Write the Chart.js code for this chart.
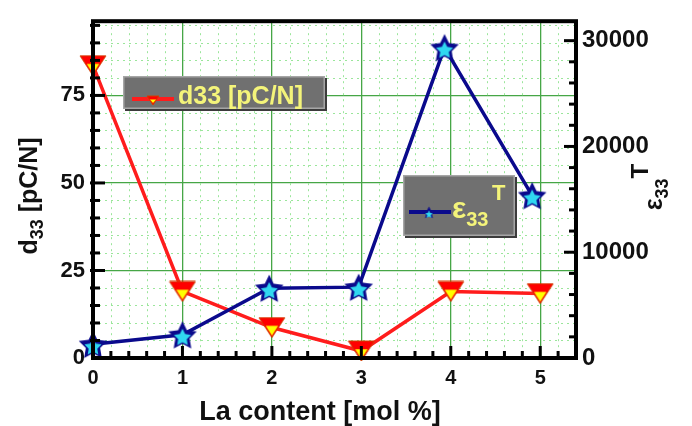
<!DOCTYPE html>
<html>
<head>
<meta charset="utf-8">
<script src="https://cdn.jsdelivr.net/npm/chart.js@4.4.1/dist/chart.umd.min.js"></script>
<style>
  html, body { margin: 0; padding: 0; background: #fff; }
  #wrap { width: 692px; height: 426px; }
</style>
</head>
<body>
<div id="wrap"><canvas id="laChart" width="692" height="426"></canvas></div>
<script>
// La content [mol %] for the d33 points
var laContent = [0, 1, 2, 3, 4, 5];
// d33 [pC/N] (left axis)
var d33Values = [83.5, 19, 8.7, 2, 19, 18.4];
// La content for the permittivity points (drawn a bit off the grid in the figure)
var laContentEps = [0, 1, 1.97, 2.97, 3.93, 4.91];
// eps33^T (right axis)
var eps33Values = [1300, 2200, 6600, 6700, 29350, 15360];

// tick labels
var xTicks = [0, 1, 2, 3, 4, 5];
var d33Ticks = [0, 25, 50, 75];
var epsTicks = [0, 10000, 20000, 30000];

var FONT = "'Liberation Sans', Arial, Helvetica, sans-serif";
var RED = '#ff1c1c';
var NAVY = '#0a0a8c';
var GRID_MAJOR = '#46a646';
var GRID_MINOR = '#9be69b';

// marker images -------------------------------------------------
function makeTriangle(w) {
  var h = Math.round(w * 0.78);
  var c = document.createElement('canvas');
  c.width = w; c.height = h;
  var g = c.getContext('2d');
  g.beginPath();
  g.moveTo(1, 1); g.lineTo(w - 1, 1); g.lineTo(w / 2, h - 1); g.closePath();
  g.fillStyle = '#ff0000'; g.fill();
  g.strokeStyle = '#d04000'; g.lineWidth = 1; g.stroke();
  g.beginPath();
  g.moveTo(w * 0.28, h * 0.42); g.lineTo(w * 0.72, h * 0.42); g.lineTo(w / 2, h - 3); g.closePath();
  g.fillStyle = '#ffff00'; g.fill();
  return c;
}

function starPath(g, cx, cy, R, r) {
  g.beginPath();
  for (var i = 0; i < 10; i++) {
    var rad = i % 2 === 0 ? R : r;
    var a = -Math.PI / 2 + i * Math.PI / 5;
    var px = cx + rad * Math.cos(a), py = cy + rad * Math.sin(a);
    if (i === 0) g.moveTo(px, py); else g.lineTo(px, py);
  }
  g.closePath();
}

function makeStar(s) {
  var c = document.createElement('canvas');
  c.width = s; c.height = s;
  var g = c.getContext('2d');
  var R = s / 2 - 1;
  starPath(g, s / 2, s / 2 + 1.5, R, R * 0.5);
  g.fillStyle = NAVY; g.fill();
  starPath(g, s / 2, s / 2 + 3, R * 0.6, R * 0.6 * 0.5);
  g.fillStyle = '#30d8f0'; g.fill();
  return c;
}

var triImg = makeTriangle(28);
var starImg = makeStar(32);
var triSmall = makeTriangle(14);
var starSmall = makeStar(15);

// helpers ---------------------------------------------------------
function drawLegendBox(ctx, x, y, w, h) {
  ctx.save();
  ctx.fillStyle = '#3c3c3c';
  ctx.fillRect(x + 2, y + 2, w, h);
  ctx.fillStyle = '#707070';
  ctx.fillRect(x, y, w, h);
  ctx.strokeStyle = '#a6a6a6';
  ctx.lineWidth = 1.5;
  ctx.strokeRect(x + 0.75, y + 0.75, w - 1.5, h - 1.5);
  ctx.restore();
}

// parts: [text, fontSize, baselineShift]
function drawParts(ctx, parts, x, y) {
  var cx = x;
  parts.forEach(function (p) {
    ctx.font = 'bold ' + p[1] + 'px ' + FONT;
    ctx.fillText(p[0], cx, y + p[2]);
    cx += ctx.measureText(p[0]).width;
  });
  return cx;
}
function partsWidth(ctx, parts) {
  var w = 0;
  parts.forEach(function (p) {
    ctx.font = 'bold ' + p[1] + 'px ' + FONT;
    w += ctx.measureText(p[0]).width;
  });
  return w;
}

var decorPlugin = {
  id: 'decor',
  beforeDatasetsDraw: function (chart) {
    var ctx = chart.ctx, a = chart.chartArea;
    var xs = chart.scales.x, ys = chart.scales.y;
    ctx.save();
    ctx.strokeStyle = GRID_MINOR;
    ctx.lineWidth = 1;
    ctx.setLineDash([2, 4]);
    for (var i = 1; i < 27; i++) {
      if (i % 5 === 0) continue;
      var px = Math.round(xs.getPixelForValue(i / 5)) + 0.5;
      ctx.beginPath(); ctx.moveTo(px, a.top); ctx.lineTo(px, a.bottom); ctx.stroke();
    }
    for (var j = 1; j < 20; j++) {
      if (j % 5 === 0) continue;
      var py = Math.round(ys.getPixelForValue(j * 5)) + 0.5;
      ctx.beginPath(); ctx.moveTo(a.left, py); ctx.lineTo(a.right, py); ctx.stroke();
    }
    ctx.restore();
  },
  afterDatasetsDraw: function (chart) {
    var ctx = chart.ctx, a = chart.chartArea;
    var xs = chart.scales.x, ys = chart.scales.y, y2 = chart.scales.y2;
    ctx.save();
    // frame
    ctx.strokeStyle = '#000';
    ctx.lineWidth = 4;
    ctx.strokeRect(a.left, a.top, a.right - a.left, a.bottom - a.top);
    // inward ticks
    ctx.lineWidth = 3;
    for (var i = 1; i < 27; i++) {
      var px = xs.getPixelForValue(i / 5);
      var len = i % 5 === 0 ? 12 : 7;
      ctx.beginPath(); ctx.moveTo(px, a.bottom); ctx.lineTo(px, a.bottom - len); ctx.stroke();
    }
    for (var j = 1; j < 20; j++) {
      var py = ys.getPixelForValue(j * 5);
      var l2 = j % 5 === 0 ? 12 : 7;
      ctx.beginPath(); ctx.moveTo(a.left - 3, py); ctx.lineTo(a.left + l2, py); ctx.stroke();
    }
    for (var k = 1; k < 16; k++) {
      var py2 = y2.getPixelForValue(k * 2000);
      var l3 = k % 5 === 0 ? 12 : 7;
      ctx.beginPath(); ctx.moveTo(a.right, py2); ctx.lineTo(a.right - l3, py2); ctx.stroke();
    }

    // legend 1 : d33
    drawLegendBox(ctx, 123, 76, 202, 33);
    ctx.strokeStyle = RED; ctx.lineWidth = 4;
    ctx.beginPath(); ctx.moveTo(132, 99); ctx.lineTo(174, 99); ctx.stroke();
    ctx.drawImage(triSmall, 153 - 7, 95);
    ctx.fillStyle = '#f4f47a';
    ctx.textBaseline = 'alphabetic';
    ctx.font = 'bold 25px ' + FONT;
    ctx.fillText('d33 [pC/N]', 178, 104);

    // legend 2 : eps33^T
    drawLegendBox(ctx, 403, 175, 112, 61);
    ctx.strokeStyle = NAVY; ctx.lineWidth = 4;
    ctx.beginPath(); ctx.moveTo(409, 212); ctx.lineTo(451, 212); ctx.stroke();
    ctx.drawImage(starSmall, 429 - 7.5, 204);
    ctx.fillStyle = '#f4f47a';
    drawParts(ctx, [['\u03b5', 30, 0], ['33', 20, 8]], 452, 218);
    ctx.font = 'bold 22px ' + FONT;
    ctx.fillText('T', 492, 200);

    // axis titles
    ctx.fillStyle = '#111';
    // bottom
    ctx.font = 'bold 27px ' + FONT;
    ctx.textAlign = 'center';
    ctx.fillText('La content [mol %]', 320, 420);
    ctx.textAlign = 'left';
    // left
    var leftParts = [['d', 25, 0], ['33', 18, 6], [' [pC/N]', 25, 0]];
    ctx.save();
    ctx.translate(37, 196);
    ctx.rotate(-Math.PI / 2);
    drawParts(ctx, leftParts, -partsWidth(ctx, leftParts) / 2, 0);
    ctx.restore();
    // right
    var rightParts = [['\u03b5', 25, 0], ['33', 18, 6], ['T', 24, -14]];
    ctx.save();
    ctx.translate(662, 187);
    ctx.rotate(-Math.PI / 2);
    drawParts(ctx, rightParts, -partsWidth(ctx, rightParts) / 2, 0);
    ctx.restore();

    ctx.restore();
  }
};

function toPoints(xv, yv) {
  return xv.map(function (v, i) { return { x: v, y: yv[i] }; });
}

function plainLabel(v) { return String(v); }

var ctx = document.getElementById('laChart').getContext('2d');

var laChart = new Chart(ctx, {
  type: 'scatter',
  data: {
    datasets: [
      {
        label: 'eps33 T',
        data: toPoints(laContentEps, eps33Values),
        yAxisID: 'y2',
        showLine: true,
        borderColor: NAVY,
        borderWidth: 3.5,
        pointStyle: starImg,
        pointRadius: 16,
        clip: false
      },
      {
        label: 'd33 [pC/N]',
        data: toPoints(laContent, d33Values),
        yAxisID: 'y',
        showLine: true,
        borderColor: RED,
        borderWidth: 3.5,
        pointStyle: triImg,
        pointRadius: 14,
        clip: false
      }
    ]
  },
  options: {
    responsive: false,
    animation: false,
    devicePixelRatio: 1,
    layout: { padding: { top: 12, left: 0, right: 0, bottom: 0 } },
    plugins: {
      legend: { display: false },
      tooltip: { enabled: false }
    },
    scales: {
      x: {
        type: 'linear',
        min: 0,
        max: 5.4,
        afterFit: function (s) { s.height = 68; },
        afterBuildTicks: function (s) { s.ticks = xTicks.map(function (v) { return { value: v }; }); },
        grid: { color: GRID_MAJOR, lineWidth: 1.3, drawTicks: false },
        border: { display: false },
        ticks: {
          padding: 8,
          color: '#111',
          callback: plainLabel,
          font: { family: FONT, size: 20, weight: 'bold' }
        }
      },
      y: {
        type: 'linear',
        position: 'left',
        min: 0,
        max: 96.2,
        afterFit: function (s) { s.width = 93; },
        afterBuildTicks: function (s) { s.ticks = d33Ticks.map(function (v) { return { value: v }; }); },
        grid: { color: GRID_MAJOR, lineWidth: 1.3, drawTicks: false },
        border: { display: false },
        ticks: {
          padding: 8,
          color: '#111',
          callback: plainLabel,
          font: { family: FONT, size: 22, weight: 'bold' }
        }
      },
      y2: {
        type: 'linear',
        position: 'right',
        min: 0,
        max: 31840,
        afterFit: function (s) { s.width = 116; },
        afterBuildTicks: function (s) { s.ticks = epsTicks.map(function (v) { return { value: v }; }); },
        grid: { display: false, drawTicks: false },
        border: { display: false },
        ticks: {
          padding: 6,
          color: '#111',
          callback: plainLabel,
          font: { family: FONT, size: 24, weight: 'bold' }
        }
      }
    }
  },
  plugins: [decorPlugin]
});
</script>
</body>
</html>
